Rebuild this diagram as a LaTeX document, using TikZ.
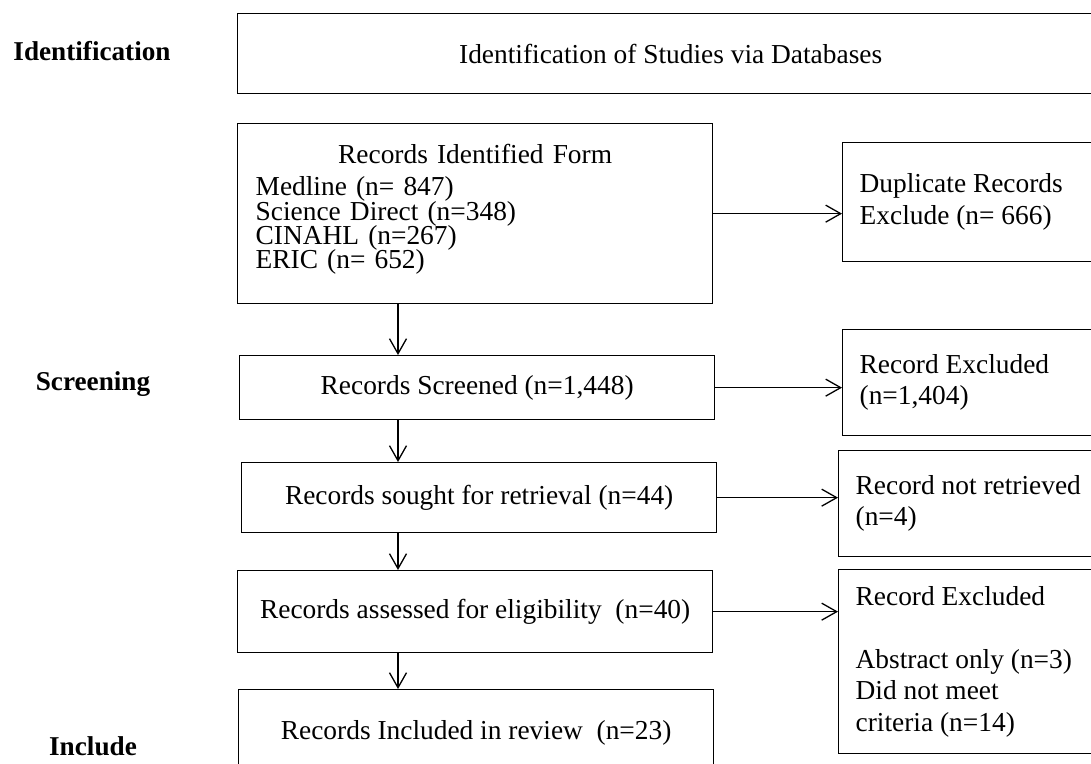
\documentclass[tikz,border=0pt]{standalone}
\usepackage{fontspec}
\setmainfont{Liberation Serif}
\usetikzlibrary{arrows.meta,positioning}

\begin{document}
\begin{tikzpicture}[x=1pt,y=-1pt,
    every node/.style={font=\fontsize{27.4pt}{31.5pt}\selectfont},
    mainbox/.style={draw,line width=1.3pt,anchor=north west,minimum width=475pt,inner sep=0pt},
    sidebox/.style={draw,line width=1.3pt,anchor=north west,minimum width=265pt,text width=231pt,inner xsep=17pt,inner ysep=0pt,align=flush left},
    phase/.style={font=\fontsize{27.2pt}{31pt}\selectfont\bfseries,anchor=base},
    arr/.style={line width=1.3pt,-{Straight Barb[length=15pt,width=17pt]}}]
        \useasboundingbox (0,0) rectangle (1091,763);
        \clip (0,0) rectangle (1091,763);
        % phases
        \node[phase] (idlabel) at (92,60) {Identification};
        \node[phase] (sclabel) at (93,390) {Screening};
        \node[phase] (inlabel) at (93,755) {Include};
        % main column
        \node[mainbox,minimum width=866pt,minimum height=80pt] (studies) at (237,13) {Identification of Studies via Databases};
        \node[mainbox,minimum height=180pt,text width=439pt,inner xsep=18pt] (ident) at (237,123)
          {\centering Records Identified Form\par\vspace{8pt}\raggedright
           \baselineskip=24.3pt\lineskiplimit=-20pt
           Medline (n= 847)\\Science Direct (n=348)\\CINAHL (n=267)\\ERIC (n= 652)\rule[-14pt]{0pt}{1pt}\par};
        \node[mainbox,minimum height=64pt] (screen) at (239,355) {Records Screened (n=1,448)};
        \node[mainbox,minimum height=70pt] (sought) at (241,462) {Records sought for retrieval (n=44)};
        \node[mainbox,minimum height=82pt] (assess) at (237,570) {Records assessed for eligibility~~(n=40)};
        \node[mainbox,minimum height=86pt] (incl) at (238,689) {Records Included in review~~(n=23)};
        % excluded column
        \node[sidebox,minimum height=119pt] (dup) at (842,142) {Duplicate Records\\Exclude (n= 666)};
        \node[sidebox,minimum height=106pt] (excl) at (842,329) {Record Excluded\\(n=1,404)};
        \node[sidebox,minimum height=106pt] (notret) at (838,450) {Record not retrieved\\(n=4)};
        \node[sidebox,minimum height=184pt] (exclb) at (838,569)
          {Record Excluded\\[31.5pt]Abstract only (n=3)\\Did not meet\\criteria (n=14)};
        % arrows
        \coordinate (dn) at (398,0);
        \draw[arr] (ident.south -| dn) -- (screen.north -| dn);
        \draw[arr] (screen.south -| dn) -- (sought.north -| dn);
        \draw[arr] (sought.south -| dn) -- (assess.north -| dn);
        \draw[arr] (assess.south -| dn) -- (incl.north -| dn);
        \draw[arr] (ident.east) -- (ident.east -| dup.west);
        \draw[arr] (screen.east) -- (screen.east -| excl.west);
        \draw[arr] (sought.east) -- (sought.east -| notret.west);
        \draw[arr] (assess.east) -- (assess.east -| exclb.west);
      \end{tikzpicture}
\end{document}
